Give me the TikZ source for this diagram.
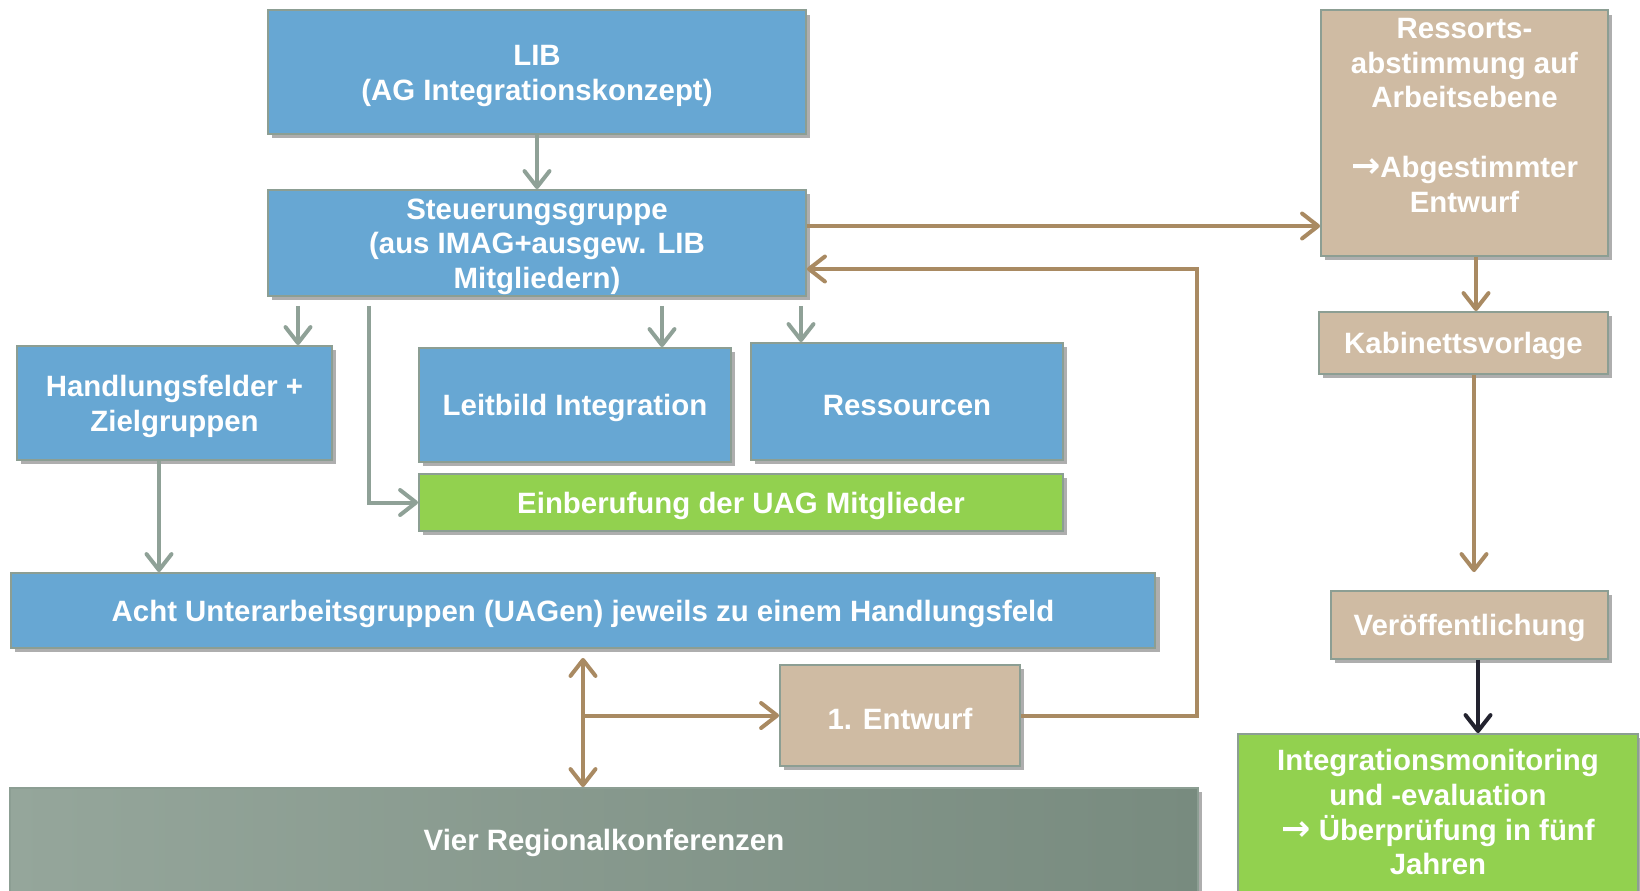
\documentclass[tikz,border=0pt]{standalone}
\usepackage{fontspec}
\setmainfont{Liberation Sans}
\newfontfamily\arrowfont{DejaVu Sans}
\usetikzlibrary{arrows.meta,shadows,calc}
\definecolor{bluebox}{HTML}{67A7D3}
\definecolor{tanbox}{HTML}{CFBBA3}
\definecolor{greenbox}{HTML}{92D14F}
\definecolor{bordercol}{HTML}{8C9E93}
\definecolor{garrowcol}{HTML}{8FA197}
\definecolor{tarrowcol}{HTML}{A98A62}
\definecolor{darkarrow}{HTML}{23232F}
\definecolor{vierl}{HTML}{95A69B}
\definecolor{vierr}{HTML}{788B7F}
\newcommand{\arr}{{\arrowfont\bfseries\fontsize{17.5}{17.4}\selectfont →}}
\newcommand{\topline}{\rule{0pt}{14pt}}
\tikzset{
  box/.style={draw=bordercol, line width=0.9pt, text=white, align=center, inner sep=0pt,
    font=\fontsize{14.7}{17.4}\selectfont\bfseries,
    execute at begin node={\topline},
    drop shadow={shadow xshift=2.2pt, shadow yshift=-2.2pt, opacity=0.45, fill=black!70}},
  sz/.style 2 args={minimum width=#1*0.5pt, minimum height=#2*0.5pt},
  bluefill/.style={box, fill=bluebox},
  tanfill/.style={box, fill=tanbox},
  greenfill/.style={box, fill=greenbox},
  garrow/.style={draw=garrowcol, line width=2pt, -{Straight Barb[round,length=8pt,width=12.5pt]}},
  tarrow/.style={draw=tarrowcol, line width=2pt, -{Straight Barb[round,length=8pt,width=12.5pt]}},
  tdouble/.style={draw=tarrowcol, line width=2pt, {Straight Barb[round,length=8pt,width=12.5pt]}-{Straight Barb[round,length=8pt,width=12.5pt]}},
  darrow/.style={draw=darkarrow, line width=2pt, -{Straight Barb[round,length=8pt,width=12.5pt]}},
}
\begin{document}
\begin{tikzpicture}[x=0.5pt,y=-0.5pt]
\useasboundingbox (0,0) rectangle (1640,890);
% nodes
\node[bluefill, sz={538}{123.5}] (lib) at (537,72) {\topline LIB\\(AG Integrationskonzept)};
\node[bluefill, sz={538}{106}] (steu) at (537,243) {\topline Steuerungsgruppe\\(aus IMAG+ausgew. LIB\\Mitgliedern)};
\node[bluefill, sz={315}{114}] (hand) at (174.5,403) {\topline Handlungsfelder +\\Zielgruppen};
\node[bluefill, sz={312}{114}] (leit) at (575,405) {Leitbild Integration};
\node[bluefill, sz={312}{117}] (ress) at (907,401.5) {Ressourcen};
\node[greenfill, sz={644}{57}] (einb) at (741,502.5) {Einberufung der UAG Mitglieder};
\node[bluefill, sz={1144.5}{75}] (acht) at (583,610.5) {Acht Unterarbeitsgruppen (UAGen) jeweils zu einem Handlungsfeld};
\node[tanfill, sz={240}{101}] (entw) at (900,715.5) {1. Entwurf};
\node[box, sz={1187.5}{104}, left color=vierl, right color=vierr] (vier) at (604,840) {Vier Regionalkonferenzen};
\node[tanfill, sz={287}{245.5}] (rab) at (1464.5,133) {\topline Ressorts-\\abstimmung auf\\Arbeitsebene\\\mbox{}\\\arr Abgestimmter\\Entwurf\\[4.4pt]\mbox{}};
\node[tanfill, sz={289}{62}] (kab) at (1463.5,343) {Kabinettsvorlage};
\node[tanfill, sz={277}{68}] (ver) at (1469.5,625) {Veröffentlichung};
\node[greenfill, sz={400}{158}] (mon) at (1438,813) {\topline Integrationsmonitoring\\und -evaluation\\\arr{} Überprüfung in fünf\\Jahren\rule[-4.4pt]{0pt}{0pt}};
% helper coordinates
\coordinate (xh) at (298,0);
\coordinate (xl) at (662,0);
\coordinate (xr) at (801,0);
\coordinate (xe) at (369,0);
\coordinate (xa) at (159,0);
\coordinate (yr) at (0,226);
\coordinate (lp) at (1197,269);
\coordinate (xd) at (583,0);
\coordinate (xk1) at (1476,0);
\coordinate (xk2) at (1474,0);
\coordinate (xv) at (1478,0);
% connectors
\draw[garrow] (lib.south) -- (steu.north);
\draw[garrow] ([yshift=-4.5pt]steu.south -| xh) -- (hand.north -| xh);
\draw[garrow] ([yshift=-4.5pt]steu.south -| xl) -- (leit.north -| xl);
\draw[garrow] ([yshift=-4.5pt]steu.south -| xr) -- (ress.north -| xr);
\draw[garrow] ([yshift=-4.5pt]steu.south -| xe) |- (einb.west);
\draw[garrow] (hand.south -| xa) -- (acht.north -| xa);
\draw[tarrow] (steu.east |- yr) -- (rab.west |- yr);
\draw[tarrow] (entw.east) -| (lp) -- (lp -| steu.east);
\draw[tdouble] ([yshift=-4.5pt]acht.south -| xd) -- (vier.north -| xd);
\draw[tarrow] (entw.west -| xd) -- (entw.west);
\draw[tarrow] (rab.south -| xk1) -- (kab.north -| xk1);
\draw[tarrow] (kab.south -| xk2) -- ([yshift=9pt]ver.north -| xk2);
\draw[darrow] (ver.south -| xv) -- (mon.north -| xv);
\end{tikzpicture}
\end{document}
